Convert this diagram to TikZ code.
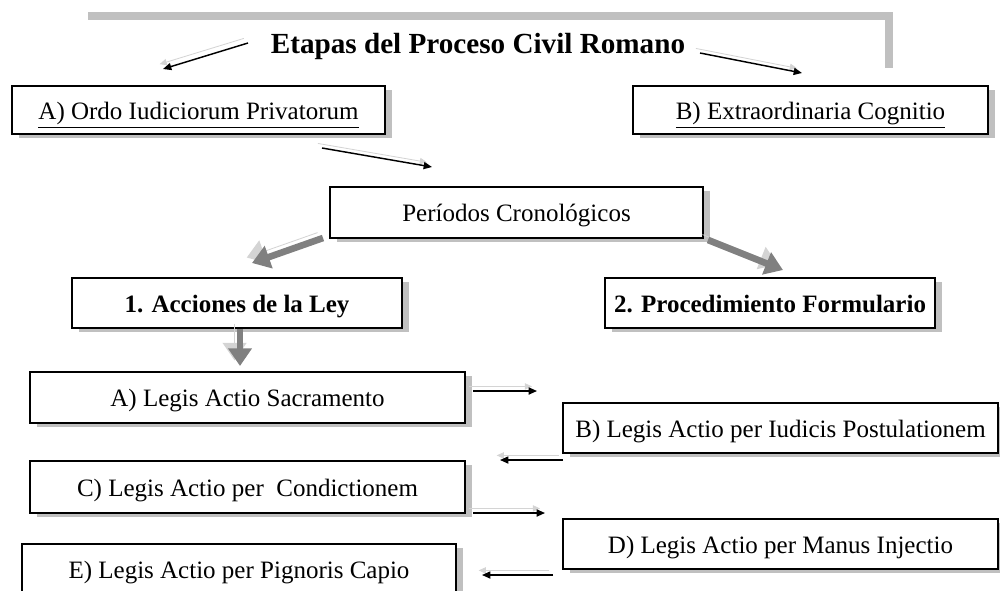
\documentclass[tikz,border=0pt]{standalone}
\usepackage{fontspec}
\setmainfont{Liberation Serif}
\usetikzlibrary{arrows.meta,shadows}
\definecolor{shadowgray}{HTML}{C0C0C0}
\definecolor{arrdark}{HTML}{808080}
\definecolor{arrlight}{HTML}{D4D4D4}
\newlength\pxu
\setlength\pxu{0.48pt}
\tikzset{
  box/.style={draw=black, line width=0.55pt, fill=white, inner sep=0pt,
    minimum width=#1\pxu, minimum height=50\pxu, text height=1.1em, text depth=0.22em,
    drop shadow={shadow xshift=3.3pt, shadow yshift=-1.9pt, fill=shadowgray, opacity=1},
    font=\fontsize{12}{14}\selectfont},
  titletext/.style={inner sep=0pt, font=\fontsize{14}{16}\selectfont\bfseries},
  thinarr/.style={line width=0.7pt, -{Triangle[length=4pt,width=3.4pt]},
    preaction={draw=arrlight, transform canvas={shift={(-2pt,2.2pt)}}}},
  thickarr/.style={line width=3.2pt, draw=arrdark, -{Triangle[length=8.5pt,width=11pt]},
    preaction={draw=arrlight, transform canvas={shift={(-2.6pt,2.6pt)}}}}
}
\begin{document}
\begin{tikzpicture}[x=0.48pt,y=-0.48pt]
\clip (0,0) rectangle (1000,590);
% top frame bar
\fill[shadowgray] (88,12) rectangle (893,20);
\fill[shadowgray] (885,12) rectangle (893,68);
% title
\node[titletext, anchor=base] (title) at (478,53) {Etapas del Proceso Civil Romano};
% boxes
\node[box=373, minimum height=48\pxu] (ordo) at (198.5,110) {\underline{A) Ordo Iudiciorum Privatorum}};
\node[box=355, minimum height=48\pxu] (extra) at (810.5,110) {\underline{B) Extraordinaria Cognitio}};
\node[box=373, minimum height=51\pxu] (periodos) at (516.5,212.5) {Períodos Cronológicos};
\node[box=330, font=\fontsize{12}{14}\selectfont\bfseries] (acciones) at (237,303) {1. Acciones de la Ley};
\node[box=330, font=\fontsize{12}{14}\selectfont\bfseries] (proced) at (770,303) {2. Procedimiento Formulario};
\node[box=435, minimum height=51\pxu] (sacr) at (247.5,397.5) {A) Legis Actio Sacramento};
\node[box=435] (iudicis) at (780.5,428) {B) Legis Actio per Iudicis Postulationem};
\node[box=435, minimum height=52\pxu] (condic) at (247.5,487) {C) Legis Actio per \ Condictionem};
\node[box=435] (manus) at (780.5,544) {D) Legis Actio per Manus Injectio};
\node[box=434] (pign) at (239,569) {E) Legis Actio per Pignoris Capio};
% arrow end points
\coordinate (t1s) at (248,43);  \coordinate (t1e) at (163,69);
\coordinate (t2s) at (700,53);  \coordinate (t2e) at (802,73);
\coordinate (o1s) at (322,148); \coordinate (o1e) at (432,167);
\coordinate (p1s) at (323,238); \coordinate (p1e) at (252,263);
\coordinate (p2s) at (708,240); \coordinate (p2e) at (783,270);
\coordinate (a1s) at (240,329); \coordinate (a1e) at (240,366);
\coordinate (h1s) at (473,391); \coordinate (h1e) at (537,391);
\coordinate (h2s) at (563,460); \coordinate (h2e) at (500,460);
\coordinate (h3s) at (473,513); \coordinate (h3e) at (545,513);
\coordinate (h4s) at (553,575); \coordinate (h4e) at (482,575);
% connectors
\draw[thinarr] (t1s) -- (t1e);
\draw[thinarr] (t2s) -- (t2e);
\draw[thinarr] (o1s) -- (o1e);
\draw[thickarr] (p1s) -- (p1e);
\draw[thickarr] (p2s) -- (p2e);
\draw[thickarr] (a1s) -- (a1e);
\draw[thinarr] (h1s) -- (h1e);
\draw[thinarr] (h2s) -- (h2e);
\draw[thinarr] (h3s) -- (h3e);
\draw[thinarr] (h4s) -- (h4e);
\end{tikzpicture}
\end{document}
